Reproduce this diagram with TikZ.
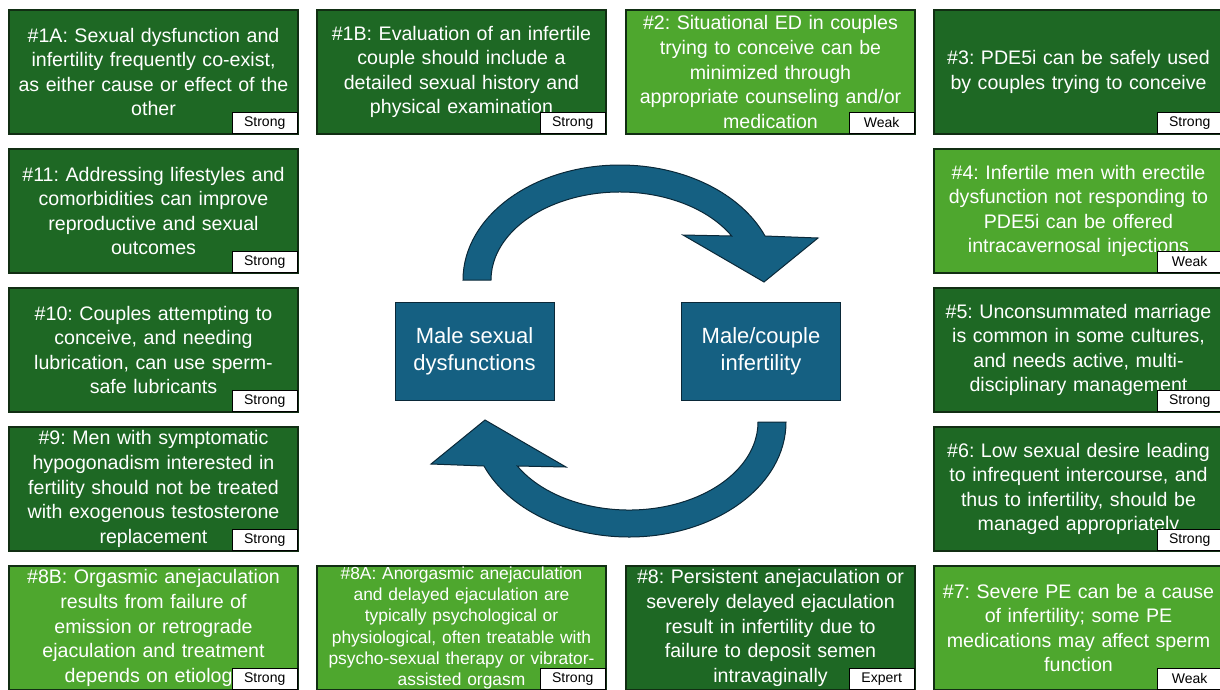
\documentclass[tikz,border=0pt]{standalone}
\usepackage{fontspec}
\setmainfont{Liberation Sans}
\usetikzlibrary{positioning}
\frenchspacing

\definecolor{deepgreen}{RGB}{30,104,36}
\definecolor{leafgreen}{RGB}{78,167,46}
\definecolor{tealblue}{RGB}{21,96,130}
\definecolor{edgegreen}{RGB}{17,46,19}
\definecolor{edgeblue}{RGB}{10,40,56}

\begin{document}
\begin{tikzpicture}[x=1pt,y=-1pt,font=\fontsize{19.6}{24.6}\selectfont]
\tikzset{
    %Define style for recommendation boxes
    rec/.style={
           rectangle,
           draw=edgegreen, line width=1.2pt,
           text=white,
           text width=282pt,
           align=center,
           minimum width=289pt,
           minimum height=124pt,
           inner sep=0pt},
    strongrec/.style={rec, fill=deepgreen},
    weakrec/.style={rec, fill=leafgreen},
    % Define style for the grade in the corner
    grade/.style={
           rectangle,
           draw=black, line width=0.8pt,
           fill=white,
           anchor=south east,
           minimum width=65pt,
           minimum height=21pt,
           inner sep=0pt,
           font=\fontsize{14}{15}\selectfont},
    % Define style for the two centre boxes
    topic/.style={
           rectangle,
           draw=edgeblue, line width=1pt,
           fill=tealblue,
           text=white,
           align=center,
           minimum width=159pt,
           minimum height=98pt,
           font=\fontsize{22}{27}\selectfont},
    % Define the curved block arrow
    cyclearrow/.pic={
        \filldraw[fill=tealblue, draw=edgeblue, line width=1pt]
            (-125,-70) -- (-153,-70)
            arc[start angle=180, end angle=337.5, x radius=157, y radius=115]
            -- (202,-112) -- (148,-68) -- (67,-115) -- (115.72,-114)
            arc[start angle=330, end angle=180, x radius=129, y radius=88]
            -- cycle;
    }
}
	\path[use as bounding box] (0,0) rectangle (1220,689);

	\coordinate (hub) at (616,350);

 %cycle in the middle
	\pic at (hub) {cyclearrow};
	\pic[rotate=180] at ([shift={(17,2)}]hub) {cyclearrow};

	\node[topic,shift={(-141.5,1)}] (msd) at (hub) {Male sexual\\dysfunctions};
	\node[topic,shift={(145,1)}] (mci) at (hub) {Male/couple\\infertility};

 %top row
	\node[strongrec,shift={(-462.5,-278)}] (rec1a) at (hub) {\#1A: Sexual dysfunction and\\infertility frequently co-exist,\\as either cause or effect of the\\other};
	\node[grade] (g1a) at ([shift={(-1,-1)}]rec1a.south east) {Strong};

	\node[strongrec,shift={(-154.5,-278)}] (rec1b) at (hub) {\#1B: Evaluation of an infertile\\couple should include a\\detailed sexual history and\\physical examination};
	\node[grade] (g1b) at ([shift={(-1,-1)}]rec1b.south east) {Strong};

	\node[weakrec,shift={(154.5,-278)}] (rec2) at (hub) {\#2: Situational ED in couples\\trying to conceive can be\\minimized through\\appropriate counseling and/or\\medication};
	\node[grade] (g2) at ([shift={(-1,-1)}]rec2.south east) {Weak};

	\node[strongrec,shift={(462.5,-278)}] (rec3) at (hub) {\#3: PDE5i can be safely used\\by couples trying to conceive};
	\node[grade] (g3) at ([shift={(-1,-1)}]rec3.south east) {Strong};

 %right column
	\node[weakrec,shift={(462.5,-139)}] (rec4) at (hub) {\#4: Infertile men with erectile\\dysfunction not responding to\\PDE5i can be offered\\intracavernosal injections};
	\node[grade] (g4) at ([shift={(-1,-1)}]rec4.south east) {Weak};

	\node[strongrec,shift={(462.5,0)}] (rec5) at (hub) {\#5: Unconsummated marriage\\is common in some cultures,\\and needs active, multi-\\disciplinary management};
	\node[grade] (g5) at ([shift={(-1,-1)}]rec5.south east) {Strong};

	\node[strongrec,shift={(462.5,139)}] (rec6) at (hub) {\#6: Low sexual desire leading\\to infrequent intercourse, and\\thus to infertility, should be\\managed appropriately};
	\node[grade] (g6) at ([shift={(-1,-1)}]rec6.south east) {Strong};

 %bottom row
	\node[weakrec,shift={(462.5,278)}] (rec7) at (hub) {\#7: Severe PE can be a cause\\of infertility; some PE\\medications may affect sperm\\function};
	\node[grade] (g7) at ([shift={(-1,-1)}]rec7.south east) {Weak};

	\node[strongrec,shift={(154.5,278)}] (rec8) at (hub) {\#8: Persistent anejaculation or\\severely delayed ejaculation\\result in infertility due to\\failure to deposit semen\\intravaginally};
	\node[grade] (g8) at ([shift={(-1,-1)}]rec8.south east) {Expert};

	\node[weakrec,shift={(-154.5,278)},font=\fontsize{17.4}{21.3}\selectfont] (rec8a) at (hub) {\#8A: Anorgasmic anejaculation\\and delayed ejaculation are\\typically psychological or\\physiological, often treatable with\\psycho-sexual therapy or vibrator-\\assisted orgasm};
	\node[grade] (g8a) at ([shift={(-1,-1)}]rec8a.south east) {Strong};

	\node[weakrec,shift={(-462.5,278)}] (rec8b) at (hub) {\#8B: Orgasmic anejaculation\\results from failure of\\emission or retrograde\\ejaculation and treatment\\depends on etiology};
	\node[grade] (g8b) at ([shift={(-1,-1)}]rec8b.south east) {Strong};

 %left column
	\node[strongrec,shift={(-462.5,139)}] (rec9) at (hub) {\#9: Men with symptomatic\\hypogonadism interested in\\fertility should not be treated\\with exogenous testosterone\\replacement};
	\node[grade] (g9) at ([shift={(-1,-1)}]rec9.south east) {Strong};

	\node[strongrec,shift={(-462.5,0)}] (rec10) at (hub) {\#10: Couples attempting to\\conceive, and needing\\lubrication, can use sperm-\\safe lubricants};
	\node[grade] (g10) at ([shift={(-1,-1)}]rec10.south east) {Strong};

	\node[strongrec,shift={(-462.5,-139)}] (rec11) at (hub) {\#11: Addressing lifestyles and\\comorbidities can improve\\reproductive and sexual\\outcomes};
	\node[grade] (g11) at ([shift={(-1,-1)}]rec11.south east) {Strong};

\end{tikzpicture}
\end{document}
